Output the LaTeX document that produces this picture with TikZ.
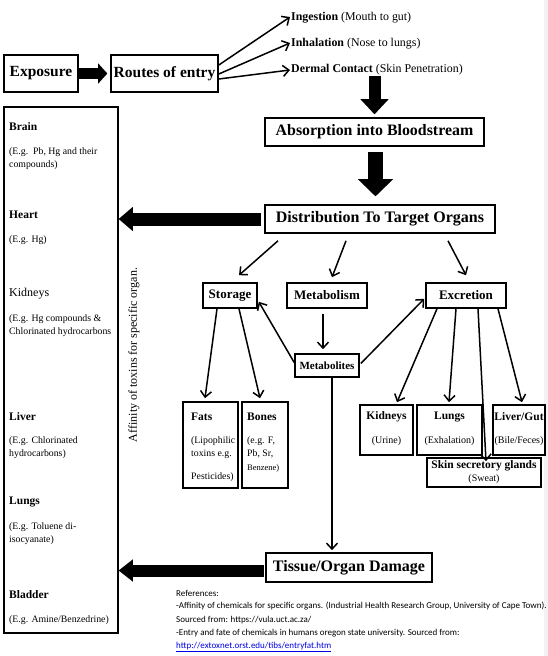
\documentclass[tikz,border=0pt]{standalone}
\usepackage{fontspec}
\setmainfont{Liberation Serif}
\newfontfamily\reffont{Carlito}
\usetikzlibrary{arrows.meta,calc}
\definecolor{linkblue}{RGB}{0,0,230}
\begin{document}
\begin{tikzpicture}[x=1pt,y=-1pt,
  box/.style={draw,line width=1.6pt,inner sep=0pt,align=center},
  thinarrow/.style={line width=1.5pt,-{Straight Barb[length=6pt,width=11pt]}},
  bigarrow/.style n args={3}{line width=#1,-{Triangle[length=#3,width=#2,line width=0.01pt]}},
  lbl/.style={anchor=west,inner sep=0pt,font=\fontsize{9.8}{11}\selectfont},
  org/.style={anchor=west,inner sep=0pt,font=\fontsize{11.5}{13}\selectfont\bfseries},
  ctr/.style={inner sep=0pt,font=\fontsize{11.5}{13}\selectfont\bfseries},
  ctrsmall/.style={inner sep=0pt,font=\fontsize{10}{11}\selectfont},
  route/.style={anchor=west,inner sep=0pt,font=\fontsize{11.9}{13}\selectfont},
  refline/.style={anchor=west,inner sep=0pt,font=\reffont\fontsize{9}{10}\selectfont},
]
\useasboundingbox (0,0) rectangle (548,656);
\fill[black!5] (544,0) rectangle (548,656);

% top row
\node[box,minimum width=74pt,minimum height=37pt,font=\fontsize{15.5}{17}\selectfont\bfseries] (expo) at (41,73.5) {Exposure};
\node[box,minimum width=107pt,minimum height=37pt,font=\fontsize{15.5}{17}\selectfont\bfseries] (routes) at (164.5,73.5) {Routes of entry};
\node[route] (ing) at (291,18) {\textbf{Ingestion} (Mouth to gut)};
\node[route] (inh) at (291,44) {\textbf{Inhalation} (Nose to lungs)};
\node[route] (derm) at (291,70) {\textbf{Dermal Contact} (Skin Penetration)};

\node[box,minimum width=219pt,minimum height=28pt,font=\fontsize{15.9}{17}\selectfont\bfseries] (absorb) at (374.5,132) {Absorption into Bloodstream};
\node[box,minimum width=230pt,minimum height=28pt,font=\fontsize{16}{18}\selectfont\bfseries] (dist) at (380,219) {Distribution To Target Organs};

\node[box,minimum width=54pt,minimum height=25pt,font=\fontsize{13}{15}\selectfont\bfseries] (storage) at (230,295.5) {Storage};
\node[box,minimum width=80pt,minimum height=25pt,font=\fontsize{13}{15}\selectfont\bfseries] (metab) at (327,295.5) {Metabolism};
\node[box,minimum width=80pt,minimum height=25pt,font=\fontsize{13}{15}\selectfont\bfseries] (excr) at (466,295.5) {Excretion};
\node[box,minimum width=64pt,minimum height=23pt,font=\fontsize{11}{13}\selectfont\bfseries] (metabolites) at (327,365.5) {Metabolites};

% storage targets
\node[box,minimum width=55pt,minimum height=86pt] (fats) at (210.5,445) {};
\node[box,minimum width=46pt,minimum height=86pt] (bones) at (265,445) {};
\node[org] (fatsT) at (191,417) {Fats};
\node[lbl] (fats1) at (191,441) {(Lipophilic};
\node[lbl] (fats2) at (191,454) {toxins e.g.};
\node[lbl] (fats3) at (191,477) {Pesticides)};
\node[org] (bonesT) at (247,417) {Bones};
\node[lbl] (bones1) at (247,441) {(e.g. F,};
\node[lbl] (bones2) at (247,454) {Pb, Sr,};
\node[lbl,font=\fontsize{8.5}{10}\selectfont] (bones3) at (247,468) {Benzene)};

% excretion targets
\node[box,minimum width=53pt,minimum height=50pt] (kid) at (386.5,430) {};
\node[box,minimum width=65pt,minimum height=50pt] (lungsR) at (449.5,430) {};
\node[box,minimum width=52pt,minimum height=50pt] (liver) at (519,430) {};
\node[box,minimum width=114pt,minimum height=29pt] (skin) at (484,472.5) {};
\node[ctr] (kidT) at (386.5,417) {Kidneys};
\node[ctrsmall] (kid1) at (386.5,441) {(Urine)};
\node[ctr] (lungT) at (449.5,417) {Lungs};
\node[ctrsmall] (lung1) at (449.5,441) {(Exhalation)};
\node[ctr] (livT) at (519,417) {Liver/Gut};
\node[ctrsmall] (liv1) at (519,441) {(Bile/Feces)};
\node[ctr] (skinT) at (484,466) {Skin secretory glands};
\node[ctrsmall] (skin1) at (484,479) {(Sweat)};

\node[box,minimum width=166pt,minimum height=29pt,font=\fontsize{16}{18}\selectfont\bfseries] (tissue) at (349,567.5) {Tissue/Organ Damage};

% left organ box
\node[box,minimum width=114pt,minimum height=526pt] (leftbox) at (61,370) {};
\node[org] (brain) at (9,127) {Brain};
\node[lbl] (brain1) at (9,152) {(E.g.\ \ Pb, Hg and their};
\node[lbl] (brain2) at (9,165) {compounds)};
\node[org] (heart) at (9,215) {Heart};
\node[lbl] (heart1) at (9,240) {(E.g. Hg)};
\node[org,font=\fontsize{12}{14}\selectfont] (kidL) at (9,294) {Kidneys};
\node[lbl] (kidL1) at (9,319) {(E.g. Hg compounds \&};
\node[lbl] (kidL2) at (9,332) {Chlorinated hydrocarbons};
\node[org] (liverL) at (9,417) {Liver};
\node[lbl] (liverL1) at (9,441) {(E.g. Chlorinated};
\node[lbl] (liverL2) at (9,454) {hydrocarbons)};
\node[org] (lungL) at (9,502) {Lungs};
\node[lbl] (lungL1) at (9,527) {(E.g. Toluene di-};
\node[lbl] (lungL2) at (9,540) {isocyanate)};
\node[org] (blad) at (9,595) {Bladder};
\node[lbl] (blad1) at (9,620) {(E.g. Amine/Benzedrine)};

\node[inner sep=0pt,rotate=90,font=\fontsize{12}{14}\selectfont] (affin) at (134,355) {Affinity of toxins for specific organ.};

% references
\node[refline] (r0) at (176,593) {References:};
\node[refline] (r1) at (176,606) {-Affinity of chemicals for specific organs. (Industrial Health Research Group, University of Cape Town).};
\node[refline] (r2) at (176,620) {Sourced from: https://vula.uct.ac.za/};
\node[refline] (r3) at (176,633) {-Entry and fate of chemicals in humans oregon state university. Sourced from:};
\node[refline,text=linkblue] (r4) at (176,647) {\underline{http://extoxnet.orst.edu/tibs/entryfat.htm}};

% helper coordinates
\coordinate (a2) at ($(absorb.south)+(1,0)$);
\coordinate (t2) at ($(tissue.west)+(0,3)$);

% big arrows
\draw[bigarrow={11pt}{20pt}{9pt},shorten >=3pt] (expo.east) -- (routes.west);
\draw[bigarrow={12pt}{28pt}{15pt},shorten >=3pt] (derm.south -| absorb.north) -- (absorb.north);
\draw[bigarrow={15pt}{35pt}{17pt},shorten <=5pt,shorten >=8pt] (a2) -- (a2 |- dist.north);
\draw[bigarrow={13pt}{24pt}{14pt},shorten <=3pt] (dist.west) -- (dist.west -| leftbox.east);
\draw[bigarrow={12pt}{22pt}{14pt},shorten <=1pt] (t2) -- (t2 -| leftbox.east);

% route arrows
\draw[thinarrow] ($(routes.east)+(0,-8.5)$) -- ($(ing.west)+(-1,-1)$);
\draw[thinarrow] ($(routes.east)+(0,0.5)$) -- ($(inh.west)+(-1,-1)$);
\draw[thinarrow] ($(routes.east)+(0,5.5)$) -- ($(derm.west)+(-1,0)$);

% distribution arrows
\draw[thinarrow] ($(dist.south)+(-102,7)$) -- ($(storage.north)+(9,-7)$);
\draw[thinarrow] ($(dist.south)+(-34,7)$) -- ($(metab.north)+(5,-5)$);
\draw[thinarrow] ($(dist.south)+(68,7)$) -- ($(excr.north)+(0,-7)$);
\draw[thinarrow] ($(metab.south)+(-4,5)$) -- ($(metabolites.north)+(-4,-4)$);
\draw[thinarrow] ($(metabolites.west)+(0,-3)$) -- ($(storage.south east)+(1,-7)$);
\draw[thinarrow] ($(metabolites.east)+(1,-2)$) -- ($(excr.south west)+(-1,-10)$);
\draw[thinarrow] ($(metabolites.south)+(5,0)$) -- ($(tissue.north)+(-17,-2)$);

% storage / excretion branches
\draw[thinarrow] ($(storage.south)+(-13,0)$) -- ($(fats.north)+(-5.5,-3)$);
\draw[thinarrow] ($(storage.south)+(9,0)$) -- ($(bones.north)+(-5,-3)$);
\draw[thinarrow] ($(excr.south)+(-29,0)$) -- ($(kid.north)+(10.5,-2)$);
\draw[thinarrow] ($(excr.south)+(-10,0)$) -- ($(lungsR.north)+(-0.5,-2)$);
\draw[thinarrow] ($(excr.south)+(12,0)$) -- ($(skin.north)+(2,4)$);
\draw[thinarrow] ($(excr.south)+(32,0)$) -- ($(liver.north)+(3,-2)$);
\end{tikzpicture}
\end{document}
